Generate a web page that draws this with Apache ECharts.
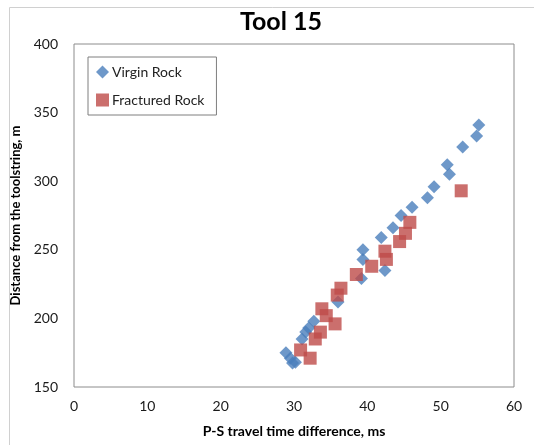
<!DOCTYPE html>
<html>
<head>
<meta charset="utf-8">
<script src="https://cdn.jsdelivr.net/npm/echarts@6/dist/echarts.min.js"></script>
<style>
  html, body { margin: 0; padding: 0; background: #fff; }
  #chart { width: 534px; height: 445px; }
</style>
</head>
<body>
<div id="chart"></div>
<script>
// Source depth vs. P-S travel time difference for tool 15
const chartTitle = 'Tool 15';
const xAxisName = 'P-S travel time difference, ms';
const yAxisName = 'Distance from the toolstring, m';

// [P-S time difference (ms), distance (m)]
const virginRock = [
  [28.9, 175], [29.5, 171], [30.2, 168], [29.8, 167.5],
  [31.1, 185], [31.6, 190], [32.0, 193], [32.7, 198],
  [36.0, 212], [39.2, 229], [39.4, 243], [39.4, 250],
  [42.4, 235], [41.9, 259], [43.5, 266], [44.6, 275],
  [46.1, 281], [48.2, 288], [49.1, 296], [50.9, 312],
  [51.2, 305], [53.0, 325], [54.9, 333], [55.2, 341]
];
const fracturedRock = [
  [30.9, 177], [32.2, 171], [32.9, 185], [33.6, 190],
  [33.8, 207], [34.4, 202], [35.6, 196], [35.9, 217],
  [36.4, 222], [38.5, 232], [40.6, 238], [42.6, 243],
  [42.4, 249], [44.4, 256], [45.2, 262], [45.8, 270],
  [52.8, 293]
];

const xTicks = { min: 0, max: 60, interval: 10 };
const yTicks = { min: 150, max: 400, interval: 50 };

const font = 'Lato, "Open Sans", sans-serif';
const chart = echarts.init(document.getElementById('chart'));

chart.setOption({
  animation: false,
  backgroundColor: '#fff',
  title: {
    text: chartTitle,
    left: 276, top: 4, textAlign: 'center',
    textStyle: { fontFamily: font, fontSize: 25, fontWeight: 'bold', color: '#000' }
  },
  graphic: [{
    type: 'rect',
    shape: { x: 9.5, y: 7.5, width: 540, height: 450 },
    style: { fill: 'none', stroke: '#d0d0d0', lineWidth: 1 },
    silent: true, z: -1
  }],
  legend: {
    left: 88, top: 57, orient: 'vertical',
    width: 130,
    padding: [8, 12, 8, 8],
    itemGap: 14,
    itemWidth: 13, itemHeight: 13,
    borderColor: '#7f7f7f', borderWidth: 1,
    backgroundColor: '#fff',
    textStyle: { fontFamily: font, fontSize: 14, color: '#222', padding: [0, 0, 0, -2] },
    data: [
      { name: 'Virgin Rock', icon: 'diamond' },
      { name: 'Fractured Rock', icon: 'rect' }
    ]
  },
  grid: { left: 74, top: 44, right: 20, bottom: 58, show: true, borderColor: '#8c8c8c', borderWidth: 1 },
  xAxis: {
    type: 'value',
    min: xTicks.min, max: xTicks.max, interval: xTicks.interval,
    name: xAxisName, nameLocation: 'middle', nameGap: 37,
    nameTextStyle: { fontFamily: font, fontSize: 14, fontWeight: 'bold', color: '#000' },
    axisLine: { show: false }, axisTick: { show: false }, splitLine: { show: false },
    axisLabel: { fontFamily: font, fontSize: 14, color: '#1a1a1a', margin: 12 }
  },
  yAxis: {
    type: 'value',
    min: yTicks.min, max: yTicks.max, interval: yTicks.interval,
    name: yAxisName, nameLocation: 'middle', nameGap: 40, nameRotate: 90,
    nameTextStyle: { fontFamily: font, fontSize: 13, fontWeight: 'bold', color: '#000' },
    axisLine: { show: false }, axisTick: { show: false }, splitLine: { show: false },
    axisLabel: { fontFamily: font, fontSize: 14, color: '#1a1a1a', margin: 16 }
  },
  series: [
    {
      name: 'Virgin Rock', type: 'scatter', symbol: 'diamond', symbolSize: 13,
      itemStyle: { color: '#4a7ebb' },
      data: virginRock
    },
    {
      name: 'Fractured Rock', type: 'scatter', symbol: 'rect', symbolSize: 13,
      itemStyle: { color: '#be4b48' },
      data: fracturedRock
    }
  ]
});
</script>
</body>
</html>
